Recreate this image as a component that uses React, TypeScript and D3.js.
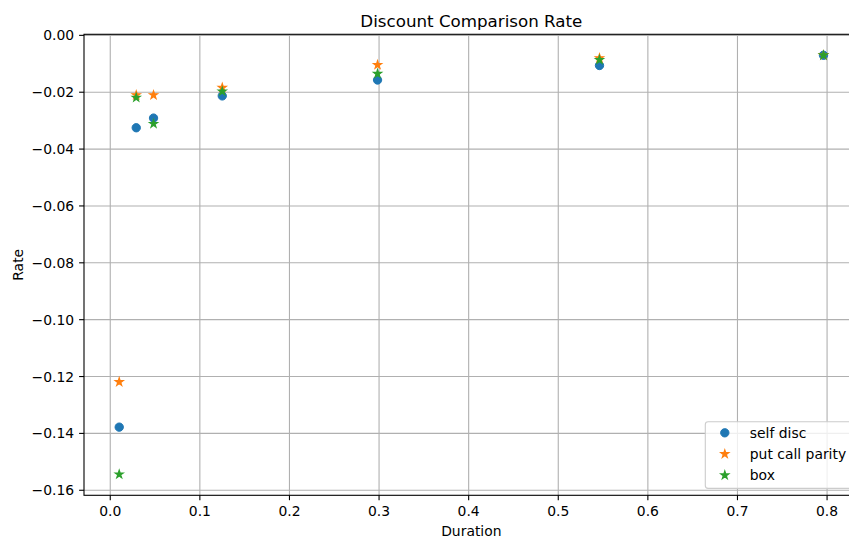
//  IMPORTS
//-------------------------------------------------------//
import { useEffect } from "react";
import * as d3 from "d3";

//  DATA
//-------------------------------------------------------//
const durations = [0.010, 0.029, 0.0483, 0.125, 0.2983, 0.546, 0.796];
const selfDisc = [-0.1378, -0.0325, -0.0291, -0.0213, -0.0157, -0.0106, -0.0070];
const putCallParity = [-0.1219, -0.0210, -0.0210, -0.0184, -0.0104, -0.0080, -0.0070];
const boxRate = [-0.1544, -0.0219, -0.0311, -0.0197, -0.0135, -0.0086, -0.0070];
const xTicks = [0, 0.1, 0.2, 0.3, 0.4, 0.5, 0.6, 0.7, 0.8];
const yTicks = [-0.16, -0.14, -0.12, -0.1, -0.08, -0.06, -0.04, -0.02, 0];
const seriesNames = ["self disc", "put call parity", "box"];

const colors = ["#1f77b4", "#ff7f0e", "#2ca02c"];
const font = "'DejaVu Sans', sans-serif";

// matplotlib-ish star path (5 points, inner ratio 0.381966)
function starPath(r: number) {
  const pts: [number, number][] = [];
  for (let i = 0; i < 10; i++) {
    const rr = i % 2 === 0 ? r : r * 0.381966;
    const a = (i * Math.PI) / 5;
    pts.push([rr * Math.sin(a), -rr * Math.cos(a)]);
  }
  return "M" + pts.map((p) => p.join(",")).join("L") + "Z";
}

//  MAIN FUNCTION
//-------------------------------------------------------//
export default function App() {
  const width = 849;
  const height = 543;
  const left = 84;
  const right = 858.7;
  const top = 34.3;
  const bottom = 495.3;

  useEffect(() => {
    document.body.style.margin = "0";
  }, []);

  const [x0, x1] = d3.extent(durations) as [number, number];
  const xPad = (x1 - x0) * 0.05;
  const allY = [...selfDisc, ...putCallParity, ...boxRate];
  const [y0, y1] = d3.extent(allY) as [number, number];
  const yPad = (y1 - y0) * 0.05;

  const x = d3.scaleLinear([x0 - xPad, x1 + xPad], [left, right]);
  const y = d3.scaleLinear([y0 - yPad, y1 + yPad], [bottom, top]);
  const fx = d3.format(".1f");
  const fy = d3.format(".2f");

  const series = [selfDisc, putCallParity, boxRate];
  const mr = 4.17;
  const star = starPath(mr);

  const marker = (k: number, cx: number, cy: number, key: string) =>
    k === 0 ? (
      <circle key={key} cx={cx} cy={cy} r={mr} fill={colors[k]} stroke={colors[k]} strokeWidth={1} />
    ) : (
      <path key={key} d={star} transform={`translate(${cx},${cy})`} fill={colors[k]} stroke={colors[k]} strokeWidth={1.2} strokeLinejoin="miter" />
    );

  // legend box
  const lgW = 146.5;
  const lgH = 66.6;
  const lgX = right - 6.9 - lgW;
  const lgY = bottom - 6.9 - lgH;

  return (
    <svg width={width} height={height} style={{ display: "block" }} fontFamily={font}>
      <rect width={width} height={height} fill="white" />
      {/* grid */}
      <g stroke="#b0b0b0" strokeWidth={1.1}>
        {xTicks.map((t) => (
          <line key={"gx" + t} x1={x(t)} x2={x(t)} y1={top} y2={bottom} />
        ))}
        {yTicks.map((t) => (
          <line key={"gy" + t} x1={left} x2={right} y1={y(t)} y2={y(t)} />
        ))}
      </g>
      {/* points */}
      {series.map((s, k) => (
        <g key={"s" + k}>{s.map((v, i) => marker(k, x(durations[i]), y(v), k + "-" + i))}</g>
      ))}
      {/* spines */}
      <rect x={left} y={top} width={right - left} height={bottom - top} fill="none" stroke="black" strokeWidth={1.1} />
      {/* x axis */}
      <g fontSize={13.9} fill="#000">
        {xTicks.map((t) => (
          <g key={"xt" + t}>
            <line x1={x(t)} x2={x(t)} y1={bottom} y2={bottom + 4.9} stroke="black" strokeWidth={1.1} />
            <text x={x(t)} y={bottom + 20.5} textAnchor="middle">{fx(t)}</text>
          </g>
        ))}
        {yTicks.map((t) => (
          <g key={"yt" + t}>
            <line x1={left - 4.9} x2={left} y1={y(t)} y2={y(t)} stroke="black" strokeWidth={1.1} />
            <text x={left - 9.8} y={y(t)} dy="0.36em" textAnchor="end">{fy(t)}</text>
          </g>
        ))}
        <text x={(left + right) / 2} y={536} textAnchor="middle">Duration</text>
        <text transform={`translate(23,${(top + bottom) / 2}) rotate(-90)`} textAnchor="middle">Rate</text>
      </g>
      {/* title */}
      <text x={(left + right) / 2} y={26.5} textAnchor="middle" fontSize={16.7}>Discount Comparison Rate</text>
      {/* legend */}
      <g>
        <rect x={lgX} y={lgY} width={lgW} height={lgH} rx={2.8} fill="white" fillOpacity={0.8} stroke="#cccccc" strokeWidth={1.1} />
        {seriesNames.map((name, k) => {
          const cy = lgY + 11 + k * 21.2;
          return (
            <g key={"lg" + k}>
              {marker(k, lgX + 19.5, cy, "lm" + k)}
              <text x={lgX + 44.5} y={cy} dy="0.36em" fontSize={13.9}>{name}</text>
            </g>
          );
        })}
      </g>
    </svg>
  );
}
